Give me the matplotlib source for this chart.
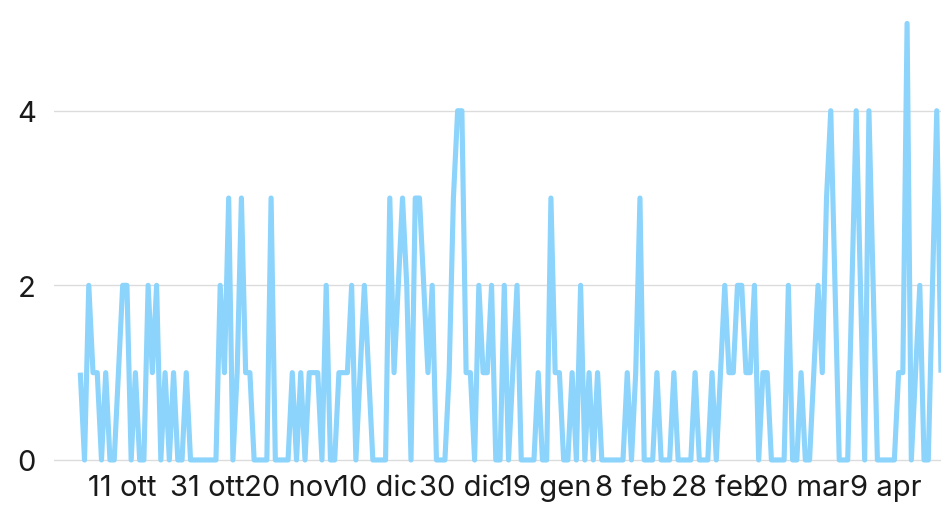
import matplotlib
matplotlib.use("Agg")
import matplotlib.pyplot as plt
import pandas as pd

# daily counts, 1 Oct -> 22 Apr
start_date = "2022-10-01"
counts = [
    1, 0, 2, 1, 1, 0, 1, 0, 0, 1,      # 0-9
    2, 2, 0, 1, 0, 0, 2, 1, 2, 0,      # 10-19
    1, 0, 1, 0, 0, 1, 0, 0, 0, 0,      # 20-29
    0, 0, 0, 2, 1, 3, 0, 1, 3, 1,      # 30-39
    1, 0, 0, 0, 0, 3, 0, 0, 0, 0,      # 40-49
    1, 0, 1, 0, 1, 1, 1, 0, 2, 0,      # 50-59
    0, 1, 1, 1, 2, 0, 1, 2, 1, 0,      # 60-69
    0, 0, 0, 3, 1, 2, 3, 2, 0, 3,      # 70-79
    3, 2, 1, 2, 0, 0, 0, 1, 3, 4,      # 80-89
    4, 1, 1, 0, 2, 1, 1, 2, 0, 0,      # 90-99
    2, 0, 1, 2, 0, 0, 0, 0, 1, 0,      # 100-109
    0, 3, 1, 1, 0, 0, 1, 0, 2, 0,      # 110-119
    1, 0, 1, 0, 0, 0, 0, 0, 0, 1,      # 120-129
    0, 1, 3, 0, 0, 0, 1, 0, 0, 0,      # 130-139
    1, 0, 0, 0, 0, 1, 0, 0, 0, 1,      # 140-149
    0, 1, 2, 1, 1, 2, 2, 1, 1, 2,      # 150-159
    0, 1, 1, 0, 0, 0, 0, 2, 0, 0,      # 160-169
    1, 0, 0, 1, 2, 1, 3, 4, 2, 0,      # 170-179
    0, 0, 2, 4, 2, 0, 4, 2, 0, 0,      # 180-189
    0, 0, 0, 1, 1, 5, 0, 1, 2, 0,      # 190-199
    0, 2, 4, 1,                        # 200-203
]
tick_dates = ["2022-10-11", "2022-10-31", "2022-11-20", "2022-12-10", "2022-12-30",
              "2023-01-19", "2023-02-08", "2023-02-28", "2023-03-20", "2023-04-09"]
mesi = ["gen", "feb", "mar", "apr", "mag", "giu", "lug", "ago", "set", "ott", "nov", "dic"]
y_ticks = [0, 2, 4]

dates = pd.date_range(start_date, periods=len(counts), freq="D")
ticks = pd.to_datetime(tick_dates)
tick_labels = [f"{t.day} {mesi[t.month - 1]}" for t in ticks]

plt.rcParams['font.family'] = ['Inter', 'DejaVu Sans']

fig = plt.figure(figsize=(9.41, 5.06), dpi=100, facecolor='white')
# axes box in pixels: x 54..941, y (from top) 0..466
ax = fig.add_axes([54 / 941, (506 - 466.2) / 506, 887 / 941, 466.2 / 506])

ax.plot(dates, counts, color='#8CD4FC', lw=3.7, solid_joinstyle='round',
        solid_capstyle='butt', zorder=3)

ax.set_xlim(dates[0] - pd.Timedelta(days=6.2), dates[-1])
ax.set_ylim(-0.06, 5.28)

ax.set_yticks(y_ticks)
ax.set_yticklabels([str(v) for v in y_ticks])
ax.set_xticks(ticks)
ax.set_xticklabels(tick_labels)

ax.grid(axis='y', color='#DCDCDC', lw=1.0, zorder=0)
ax.grid(axis='x', visible=False)
for s in ax.spines.values():
    s.set_visible(False)
ax.tick_params(axis='both', length=0, labelsize=21, colors='#1A1A1A')
ax.tick_params(axis='y', pad=13)
ax.tick_params(axis='x', pad=6)

fig.savefig("out.png", dpi=100, facecolor='white')
